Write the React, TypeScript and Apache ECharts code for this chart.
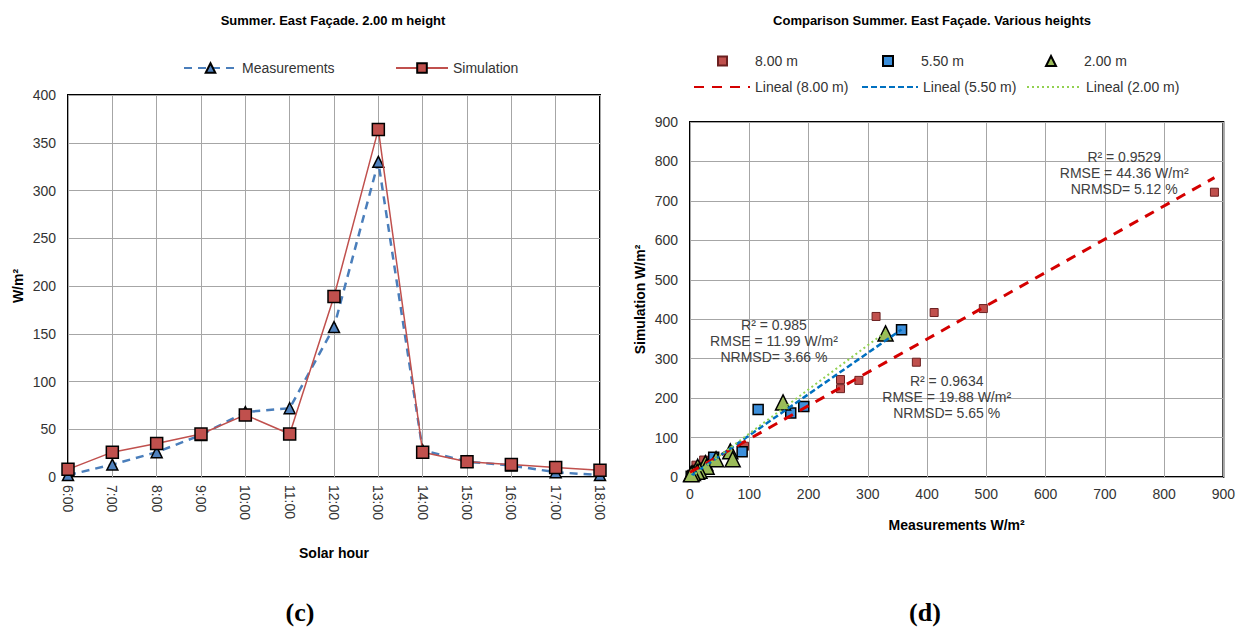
import React, { useEffect, useRef } from "react";
import * as echarts from "echarts";

// ---------- data ----------
const hours = ["6:00", "7:00", "8:00", "9:00", "10:00", "11:00", "12:00", "13:00", "14:00", "15:00", "16:00", "17:00", "18:00"];
const measurements = [2, 13, 26, 44, 68, 72, 157, 330, 28, 16, 12, 5, 2];
const simulation = [8, 26, 35, 45, 65, 45, 189, 364, 26, 16, 13, 10, 7];

const meas8 = [2, 10, 23, 92, 192, 254, 254, 285, 314, 382, 412, 495, 885];
const sim8 = [5, 30, 43, 78, 178, 224, 247, 245, 407, 291, 417, 427, 722];
const meas55 = [2, 5, 12, 25, 40, 88, 115, 170, 192, 357];
const sim55 = [2, 4, 10, 22, 50, 64, 171, 162, 179, 373];
const meas2 = measurements;
const sim2 = simulation;

const trendNames = ["Lineal (8.00 m)", "Lineal (5.50 m)", "Lineal (2.00 m)"];
const trendSlope = [0.844, 1.045, 1.12];
const trendIntercept = [12, 1, -2];
const trendFrom = [0, 3, 2];
const trendTo = [885, 357, 330];

const statsText = [
  ["R² = 0.9529", "RMSE = 44.36 W/m²", "NRMSD= 5.12 %"],
  ["R² = 0.985", "RMSE = 11.99 W/m²", "NRMSD= 3.66 %"],
  ["R² = 0.9634", "RMSE = 19.88 W/m²", "NRMSD= 5.65 %"],
];
const statsAt = [
  [729, 770],
  [141, 345],
  [431, 203],
];

// ---------- layout ----------
const SANS = "'Liberation Sans', Arial, Helvetica, sans-serif";
const L = { left: 68, top: 95, right: 600, bottom: 477 };
const R = { left: 690, top: 122, right: 1226, bottom: 477 };
const W = 1238;
const H = 632;

const rx = (v: number) => R.left + (v / 900) * (R.right - R.left);
const ry = (v: number) => R.bottom - (v / 900) * (R.bottom - R.top);

const zip = (a: number[], b: number[]) => a.map((v, i) => [v, b[i]]);

export default function App() {
  const ref = useRef<HTMLDivElement>(null);
  useEffect(() => {
    if (!ref.current) return;
    const chart = echarts.init(ref.current, undefined, { renderer: "svg" });

    const tick = { color: "#333", fontFamily: SANS, fontSize: 14 };
    const axisName = { color: "#000", fontFamily: SANS, fontSize: 14, fontWeight: "bold" as const };
    const split = { show: true, lineStyle: { color: "#a6a6a6", width: 1 } };

    const trendColors = ["#d40000", "#0070c0", "#92d050"];
    const trendTypes: any[] = [[10, 8], [6, 3], [2, 3]];
    const trendWidths = [3, 2.5, 2];

    const trendSeries = trendNames.map((n, i) => ({
      name: n,
      type: "line",
      xAxisIndex: 1,
      yAxisIndex: 1,
      symbol: "none",
      z: 5,
      lineStyle: { color: trendColors[i], width: trendWidths[i], type: trendTypes[i] },
      itemStyle: { color: trendColors[i] },
      data: [
        [trendFrom[i], trendIntercept[i] + trendSlope[i] * trendFrom[i]],
        [trendTo[i], trendIntercept[i] + trendSlope[i] * trendTo[i]],
      ],
    }));

    const legendText = { color: "#333", fontFamily: SANS, fontSize: 14 };
    const mkLegend = (item: any, left: number, top: number, w: number, h: number, extra: any = {}) => ({
      data: [item],
      left,
      top,
      itemWidth: w,
      itemHeight: h,
      itemGap: 0,
      selectedMode: false,
      textStyle: legendText,
      padding: 0,
      ...extra,
    });
    const markerLegendText = { ...legendText, padding: [0, 0, 0, 23] };

    const graphics: any[] = [
      {
        type: "text",
        x: 333,
        y: 20,
        style: { text: "Summer. East Façade. 2.00 m height", fill: "#000", fontFamily: SANS, fontSize: 13, fontWeight: "bold", align: "center", verticalAlign: "middle" },
      },
      {
        type: "text",
        x: 932,
        y: 20,
        style: { text: "Comparison Summer. East Façade. Various heights", fill: "#000", fontFamily: SANS, fontSize: 13, fontWeight: "bold", align: "center", verticalAlign: "middle" },
      },
      {
        type: "text",
        x: 300,
        y: 612,
        style: { text: "(c)", fill: "#000", fontFamily: "'Liberation Serif', 'Times New Roman', serif", fontSize: 26, fontWeight: "bold", align: "center", verticalAlign: "middle" },
      },
      {
        type: "text",
        x: 925,
        y: 612,
        style: { text: "(d)", fill: "#000", fontFamily: "'Liberation Serif', 'Times New Roman', serif", fontSize: 26, fontWeight: "bold", align: "center", verticalAlign: "middle" },
      },
    ];
    statsText.forEach((lines, i) => {
      graphics.push({
        type: "text",
        x: rx(statsAt[i][0]),
        y: ry(statsAt[i][1]),
        z: 10,
        style: {
          text: lines.join("\n"),
          fill: "#404040",
          fontFamily: SANS,
          fontSize: 14,
          lineHeight: 16,
          align: "center",
          verticalAlign: "middle",
        },
      });
    });

    const hideDot = (name: string) => ({ name, itemStyle: { opacity: 0 } });

    chart.setOption({
      animation: false,
      backgroundColor: "#fff",
      grid: [
        { left: L.left, top: L.top, width: L.right - L.left, height: L.bottom - L.top, show: true, borderColor: "#000", borderWidth: 2, backgroundColor: "transparent" },
        { left: R.left, top: R.top, width: R.right - R.left, height: R.bottom - R.top, show: true, borderColor: "#000", borderWidth: 2, backgroundColor: "transparent" },
      ],
      xAxis: [
        {
          gridIndex: 0,
          type: "category",
          data: hours,
          boundaryGap: false,
          axisLine: { show: false },
          axisTick: { show: false },
          axisLabel: { ...tick, rotate: -90, margin: 8, interval: 0 },
          splitLine: split,
          name: "Solar hour",
          nameLocation: "middle",
          nameGap: 69,
          nameTextStyle: axisName,
        },
        {
          gridIndex: 1,
          type: "value",
          min: 0,
          max: 900,
          interval: 100,
          axisLine: { show: false },
          axisTick: { show: false },
          axisLabel: { ...tick, margin: 10 },
          splitLine: split,
          name: "Measurements W/m²",
          nameLocation: "middle",
          nameGap: 41,
          nameTextStyle: axisName,
        },
      ],
      yAxis: [
        {
          gridIndex: 0,
          type: "value",
          min: 0,
          max: 400,
          interval: 50,
          axisLine: { show: false },
          axisTick: { show: false },
          axisLabel: { ...tick, margin: 12 },
          splitLine: split,
          name: "W/m²",
          nameLocation: "middle",
          nameGap: 43,
          nameTextStyle: axisName,
        },
        {
          gridIndex: 1,
          type: "value",
          min: 0,
          max: 900,
          interval: 100,
          axisLine: { show: false },
          axisTick: { show: false },
          axisLabel: { ...tick, margin: 12 },
          splitLine: split,
          name: "Simulation W/m²",
          nameLocation: "middle",
          nameGap: 43,
          nameTextStyle: axisName,
        },
      ],
      legend: [
        mkLegend("Measurements", 183, 61, 53, 12),
        mkLegend("Simulation", 395, 61, 52, 12),
        mkLegend({ name: "8.00 m", icon: "rect" }, 717, 54, 9, 9, { textStyle: markerLegendText }),
        mkLegend({ name: "5.50 m", icon: "rect" }, 882, 54, 10, 10, { textStyle: markerLegendText }),
        mkLegend({ name: "2.00 m", icon: "triangle" }, 1045, 54, 10, 10, { textStyle: markerLegendText }),
        mkLegend(hideDot("Lineal (8.00 m)"), 693, 80, 56, 14),
        mkLegend(hideDot("Lineal (5.50 m)"), 861, 80, 56, 14),
        mkLegend(hideDot("Lineal (2.00 m)"), 1026, 80, 54, 14),
      ],
      graphic: graphics,
      series: [
        {
          name: "Measurements",
          type: "line",
          xAxisIndex: 0,
          yAxisIndex: 0,
          data: measurements,
          symbol: "triangle",
          symbolSize: 11,
          z: 3,
          itemStyle: { color: "#4f81bd", borderColor: "#000", borderWidth: 1.5 },
          lineStyle: { color: "#4a7ebb", width: 2.5, type: [8, 6] },
        },
        {
          name: "Simulation",
          type: "line",
          xAxisIndex: 0,
          yAxisIndex: 0,
          data: simulation,
          symbol: "rect",
          symbolSize: 12,
          z: 4,
          itemStyle: { color: "#c0504d", borderColor: "#000", borderWidth: 1.5 },
          lineStyle: { color: "#c0504d", width: 1.5 },
        },
        {
          name: "8.00 m",
          type: "scatter",
          xAxisIndex: 1,
          yAxisIndex: 1,
          symbol: "rect",
          symbolSize: 8,
          z: 2,
          itemStyle: { color: "#c0504d", borderColor: "#6b2020", borderWidth: 1, opacity: 1 },
          data: zip(meas8, sim8),
        },
        {
          name: "5.50 m",
          type: "scatter",
          xAxisIndex: 1,
          yAxisIndex: 1,
          symbol: "rect",
          symbolSize: 10,
          z: 3,
          itemStyle: { color: "#3c8fdb", borderColor: "#000", borderWidth: 1.5, opacity: 1 },
          data: zip(meas55, sim55),
        },
        {
          name: "2.00 m",
          type: "scatter",
          xAxisIndex: 1,
          yAxisIndex: 1,
          symbol: "triangle",
          symbolSize: 15,
          z: 4,
          itemStyle: { color: "#9bbb59", borderColor: "#000", borderWidth: 1.5, opacity: 1 },
          data: zip(meas2, sim2),
        },
        ...trendSeries,
      ],
    });
    return () => chart.dispose();
  }, []);
  return <div ref={ref} style={{ position: "absolute", left: 0, top: 0, width: W, height: H }} />;
}
